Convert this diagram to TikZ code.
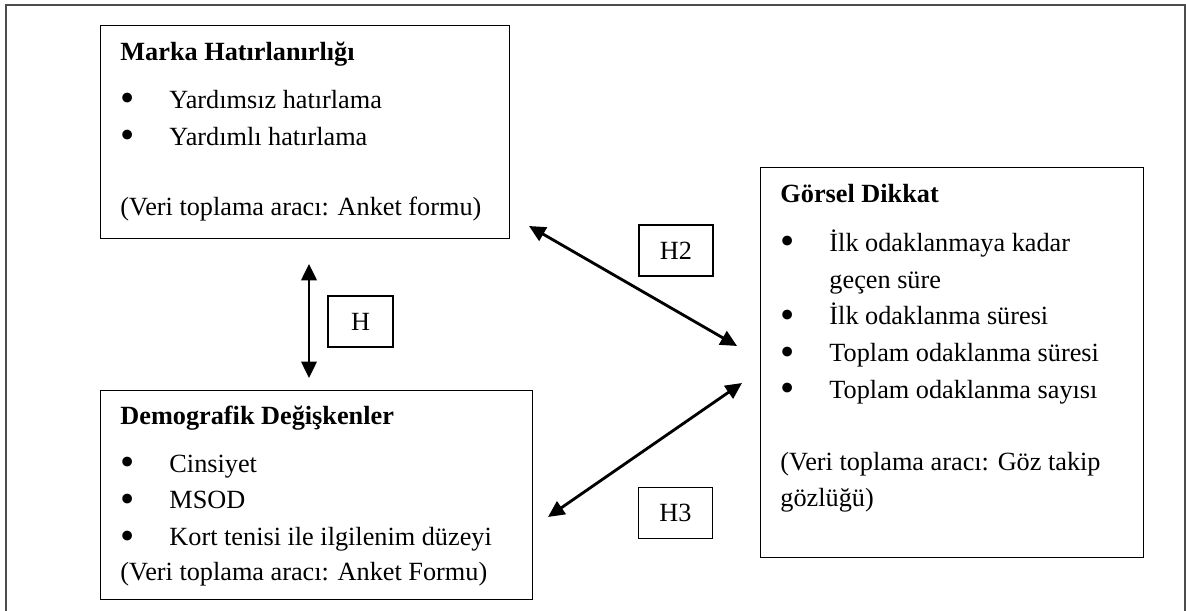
\documentclass[tikz,border=0pt]{standalone}
\usepackage{fontspec}
\setmainfont{Liberation Serif}
\usetikzlibrary{arrows.meta}

\newcommand{\bul}{\makebox[22.4pt][l]{\raisebox{-1.6pt}{\scalebox{1.55}{\textbullet}}}}
\newcommand{\boxtext}[3]{\parbox[c][#2][t]{#1}{\raggedright #3}}

\begin{document}
\begin{tikzpicture}[x=0.457pt, y=-0.457pt,
    varbox/.style={draw, line width=0.5pt, anchor=north west, inner xsep=9.1pt, inner ysep=0pt, font=\fontsize{12}{16.8}\selectfont},
    hyp/.style={draw, line width=0.5pt, minimum width=33.8pt, minimum height=23.3pt, inner sep=0pt, font=\fontsize{12}{14}\selectfont},
    arr/.style={{Triangle[length=7.5pt,width=7pt]}-{Triangle[length=7.5pt,width=7pt]}, line width=1.3pt},
    frame/.style={draw=black!70, line width=0.9pt},
]
\useasboundingbox (0,0) rectangle (1186,611);
\draw[frame] (6,611) -- (6,5) -- (1185,5) -- (1185,611);

\node[varbox] (marka) at (100,25) {\boxtext{168.7pt}{97.3pt}{\rule{0pt}{16pt}\textbf{Marka Hatırlanırlığı}\\[5pt]
\bul Yardımsız hatırlama\\
\bul Yardımlı hatırlama\\[15.5pt]
(Veri toplama aracı: Anket formu)}};

\node[varbox] (demo) at (100,390) {\boxtext{179.2pt}{95.5pt}{\rule{0pt}{15.5pt}\textbf{Demografik Değişkenler}\\[5pt]
\bul Cinsiyet\\
\bul MSOD\\
\bul Kort tenisi ile ilgilenim düzeyi\\[-1pt]
(Veri toplama aracı: Anket Formu)}};

\node[varbox] (gorsel) at (760,167) {\boxtext{156.8pt}{178.2pt}{\rule{0pt}{16pt}\textbf{Görsel Dikkat}\\[5.5pt]
\bul İlk odaklanmaya kadar\\
\hspace*{22.4pt}geçen süre\\
\bul İlk odaklanma süresi\\
\bul Toplam odaklanma süresi\\
\bul Toplam odaklanma sayısı\\[16pt]
(Veri toplama aracı: Göz takip\\
gözlüğü)}};

\node[hyp, minimum width=29.7pt] (h1) at (360.5,321.5) {H};
\node[hyp] (h2) at (676,250.5) {H2};
\node[hyp] (h3) at (675.5,513) {H3};

\coordinate (hTop) at (309,264);
\coordinate (hBot) at (309,378);
\coordinate (h2Start) at (529,226);
\coordinate (h2End) at (737,346);
\coordinate (h3Start) at (548,517);
\coordinate (h3End) at (742,383);

\draw[arr] (hTop) -- (hBot);
\draw[arr] (h2Start) -- (h2End);
\draw[arr] (h3Start) -- (h3End);

\end{tikzpicture}
\end{document}
